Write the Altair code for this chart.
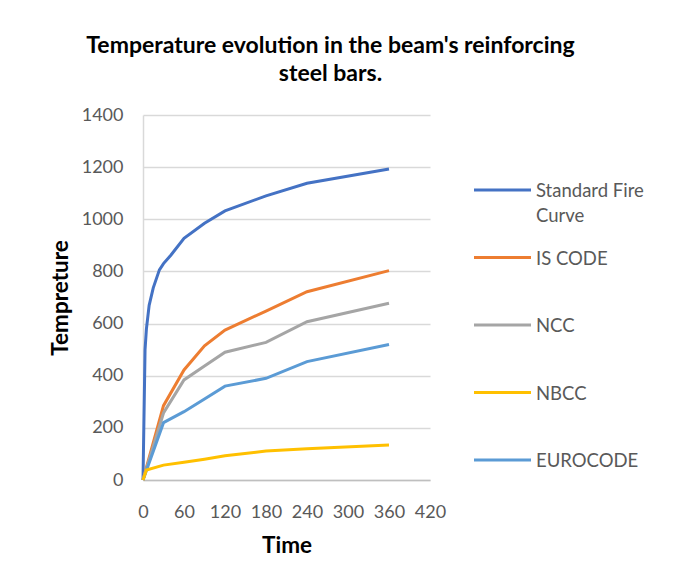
import altair as alt
import pandas as pd

series_names = ["Standard Fire Curve", "IS CODE", "NCC", "NBCC", "EUROCODE"]
legend_labels = ["Standard Fire\nCurve", "IS CODE", "NCC", "NBCC", "EUROCODE"]
colors = ["#4472C4", "#ED7D31", "#A5A5A5", "#FFC000", "#5B9BD5"]

fire_time = [0, 3, 5, 9, 15, 24, 30, 41, 60, 90, 120, 180, 240, 360]
fire_temp = [0, 500, 580, 670, 737, 806, 830, 863, 927, 985, 1032, 1090, 1138, 1193]

code_time = [0, 30, 60, 90, 120, 180, 240, 360]
is_code = [0, 285, 422, 515, 575, 648, 722, 803]
ncc = [0, 257, 384, 437, 490, 528, 607, 678]
eurocode = [0, 220, 262, 311, 360, 390, 454, 520]

nbcc_time = [0, 5, 30, 60, 90, 120, 180, 240, 360]
nbcc = [0, 38, 57, 68, 80, 93, 111, 120, 134]

x_ticks = [0, 60, 120, 180, 240, 300, 360, 420]
y_ticks = [0, 200, 400, 600, 800, 1000, 1200, 1400]

rows = []
for t, v in zip(fire_time, fire_temp):
    rows.append({"series": "Standard Fire Curve", "time": t, "temp": v})
for name, vals in [("IS CODE", is_code), ("NCC", ncc), ("EUROCODE", eurocode)]:
    for t, v in zip(code_time, vals):
        rows.append({"series": name, "time": t, "temp": v})
for t, v in zip(nbcc_time, nbcc):
    rows.append({"series": "NBCC", "time": t, "temp": v})
df = pd.DataFrame(rows)

legend_df = pd.DataFrame({"series": series_names, "label": legend_labels})

FONT = "Lato"
color_enc = alt.Color("series:N", scale=alt.Scale(domain=series_names, range=colors), legend=None)

lines = alt.Chart(df).mark_line(strokeWidth=3).encode(
    x=alt.X("time:Q", scale=alt.Scale(domain=[0, 420], nice=False),
            axis=alt.Axis(values=x_ticks, title="Time", grid=False, ticks=False, format="d",
                          labelOverlap=False, labelFlush=False,
                          domainColor="#bfbfbf", domainWidth=1.5, labelPadding=23,
                          titleY=65, titleBaseline="middle")),
    y=alt.Y("temp:Q", scale=alt.Scale(domain=[0, 1400], nice=False),
            axis=alt.Axis(values=y_ticks, title="Tempreture", grid=True, gridColor="#d9d9d9",
                          gridWidth=1.5, ticks=False, domainColor="#d9d9d9", domainWidth=1.5,
                          format="d", labelOverlap=False, labelFlush=False,
                          labelPadding=20, titleX=-83, titleY=182.5, titleAngle=-90,
                          titleAlign="center", titleBaseline="middle")),
    color=color_enc,
    detail="series:N",
    order=alt.Order("time:Q"),
)

leg_y = alt.Y("series:N", scale=alt.Scale(type="point", domain=series_names, range=[75, 345], padding=0), axis=None)

leg_rules = alt.Chart(legend_df).mark_rule(strokeWidth=3).encode(
    y=leg_y, x=alt.value(331), x2=alt.value(388), color=color_enc
)
leg_text = alt.Chart(legend_df).mark_text(
    align="left", baseline="top", dy=-8, lineBreak="\n", font=FONT, fontSize=18.5,
    color="#595959", lineHeight=25
).encode(y=leg_y, x=alt.value(393), text="label:N")

chart = alt.layer(lines, leg_rules, leg_text).resolve_scale(y="independent").properties(
    width=287,
    height=365,
    autosize=alt.AutoSizeParams(type="none"),
    padding={"left": 135, "top": 107, "right": 236, "bottom": 97},
    title=alt.TitleParams(
        text=["Temperature evolution in the beam's reinforcing", "steel bars."],
        font=FONT, fontSize=23, fontWeight="bold", color="black", lineHeight=28,
        anchor="middle", frame="group", dx=44, offset=20,
    ),
).configure_axis(
    labelFont=FONT, labelFontSize=18, labelColor="#595959",
    titleFont=FONT, titleFontSize=22.5, titleFontWeight="bold", titleColor="black",
).configure_view(stroke=None)

chart.save("out.html", embed_options={"renderer": "svg", "actions": False})
